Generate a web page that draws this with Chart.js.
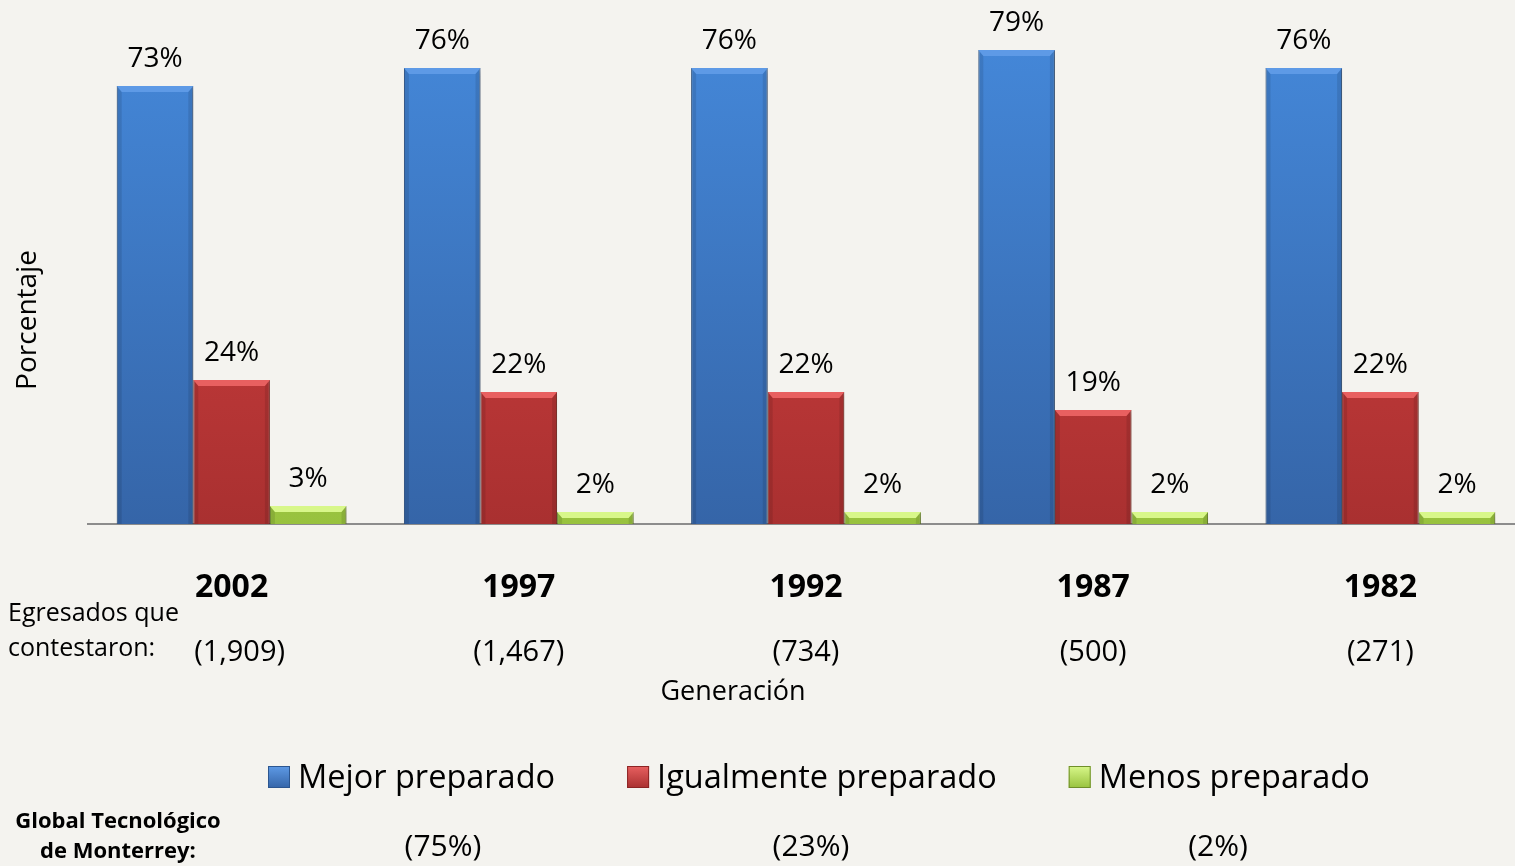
<!DOCTYPE html>
<html>
<head>
<meta charset="utf-8">
<script src="https://cdn.jsdelivr.net/npm/chart.js@4.4.0/dist/chart.umd.min.js"></script>
<style>
  html, body { margin: 0; padding: 0; background: #f4f3ef; overflow: hidden; }
  #wrap { position: absolute; left: 0; top: 0; width: 1524px; height: 866px; }
</style>
</head>
<body>
<div id="wrap"><canvas id="grafica"></canvas></div>
<script>
// Datos de la gráfica
var generaciones = ["2002", "1997", "1992", "1987", "1982"];
var egresados = ["(1,909)", "(1,467)", "(734)", "(500)", "(271)"];
var series = ["Mejor preparado", "Igualmente preparado", "Menos preparado"];
var mejor = [73, 76, 76, 79, 76];
var igual = [24, 22, 22, 19, 22];
var menos = [3, 2, 2, 2, 2];
var globalTec = ["(75%)", "(23%)", "(2%)"];

var FUENTE = "'Open Sans', 'DejaVu Sans', sans-serif";

// colores: [arriba, abajo, borde, brillo]
var colores = [
    ["#4487d8", "#3565a8", "#2c5690", "#5e9ae6"],
    ["#dc4444", "#a93030", "#8c2424", "#e86060"],
    ["#c3ea6a", "#98c23e", "#6f8f2a", "#d8f78a"]
];

function degradado(i) {
    return function (ctx) {
        var chart = ctx.chart;
        var area = chart.chartArea;
        if (!area) return colores[i][0];
        var g = chart.ctx.createLinearGradient(0, area.top, 0, area.bottom);
        g.addColorStop(0, colores[i][0]);
        g.addColorStop(1, colores[i][1]);
        return g;
    };
}

// Sombra de las barras
var sombra = {
    id: "sombra",
    beforeDatasetsDraw: function (chart) {
        var c = chart.ctx;
        c.save();
        c.shadowColor = "rgba(60,50,20,0.25)";
        c.shadowBlur = 6;
        c.shadowOffsetX = 3;
        c.shadowOffsetY = 3;
    },
    afterDatasetsDraw: function (chart) {
        chart.ctx.restore();
    }
};

// Biselado, etiquetas y textos
var textos = {
    id: "textos",
    afterDraw: function (chart) {
        var c = chart.ctx;
        var xs = chart.scales.x;
        c.save();

        // biselado de cada barra
        chart.data.datasets.forEach(function (ds, i) {
            var meta = chart.getDatasetMeta(i);
            meta.data.forEach(function (bar, j) {
                var l = bar.x - bar.width / 2, r = bar.x + bar.width / 2;
                var t = bar.y, b = bar.base;
                var h = Math.min(6, (b - t) / 2);
                c.fillStyle = colores[i][3];
                c.beginPath();
                c.moveTo(l, t); c.lineTo(r, t); c.lineTo(r - 5, t + h); c.lineTo(l + 5, t + h);
                c.closePath(); c.fill();
                c.fillStyle = "rgba(0,0,0,0.10)";
                c.beginPath();
                c.moveTo(l, t); c.lineTo(l + 5, t + h); c.lineTo(l + 5, b); c.lineTo(l, b);
                c.closePath(); c.fill();
                c.beginPath();
                c.moveTo(r, t); c.lineTo(r - 5, t + h); c.lineTo(r - 5, b); c.lineTo(r, b);
                c.closePath(); c.fill();

                // etiqueta de valor
                c.fillStyle = "#000";
                c.font = "28px " + FUENTE;
                c.textAlign = "center";
                c.textBaseline = "alphabetic";
                c.fillText(ds.data[j] + "%", bar.x, t - 19);
            });
        });

        // años y egresados
        c.textAlign = "center";
        generaciones.forEach(function (g, k) {
            var x = xs.getPixelForValue(k);
            c.font = "bold 32px " + FUENTE;
            c.fillText(g, x, 597);
            c.font = "29px " + FUENTE;
            c.fillText(egresados[k], x + (k === 0 ? 8 : 0), 661);
        });

        c.textAlign = "left";
        c.font = "25px " + FUENTE;
        c.fillText("Egresados que", 8, 621);
        c.fillText("contestaron:", 8, 656);

        c.textAlign = "center";
        c.font = "27px " + FUENTE;
        c.fillText("Generación", 733, 700);

        // título del eje y
        c.save();
        c.translate(28, 320);
        c.rotate(-Math.PI / 2);
        c.textBaseline = "middle";
        c.font = "28px " + FUENTE;
        c.fillText("Porcentaje", 0, 0);
        c.restore();

        // leyenda
        c.font = "32.5px " + FUENTE;
        var xl = 268;
        series.forEach(function (s, i) {
            var g = c.createLinearGradient(0, 766, 0, 788);
            g.addColorStop(0, colores[i][3]);
            g.addColorStop(1, colores[i][1]);
            c.fillStyle = g;
            c.fillRect(xl, 766, 22, 22);
            c.strokeStyle = colores[i][2];
            c.lineWidth = 1;
            c.strokeRect(xl + 0.5, 766.5, 21, 21);
            c.fillStyle = "#000";
            c.textAlign = "left";
            var w = c.measureText(s).width;
            c.fillText(s, xl + 30, 788);
            xl += 30 + w + 72;
        });

        c.textAlign = "center";
        c.font = "30px " + FUENTE;
        var xsGlobal = [443, 811, 1218];
        globalTec.forEach(function (t, i) {
            c.fillText(t, xsGlobal[i], 856);
        });

        c.font = "bold 22px " + FUENTE;
        c.fillText("Global Tecnológico", 118, 828);
        c.fillText("de Monterrey:", 118, 858);

        c.restore();
    }
};

var datos = {
    labels: generaciones,
    datasets: [
        { label: series[0], data: mejor, backgroundColor: degradado(0), borderColor: colores[0][2], borderWidth: 1 },
        { label: series[1], data: igual, backgroundColor: degradado(1), borderColor: colores[1][2], borderWidth: 1 },
        { label: series[2], data: menos, backgroundColor: degradado(2), borderColor: colores[2][2], borderWidth: 1 }
    ]
};

var configuracion = {
    type: "bar",
    data: datos,
    options: {
        responsive: true,
        maintainAspectRatio: false,
        animation: false,
        layout: { padding: { left: 88, right: 0, top: 44, bottom: 334 } },
        datasets: { bar: { categoryPercentage: 0.8, barPercentage: 1.0 } },
        plugins: { legend: { display: false }, tooltip: { enabled: false } },
        scales: {
            x: {
                grid: { display: false },
                border: { display: true, color: "#8c8c8c", width: 2 },
                ticks: { display: false }
            },
            y: {
                display: false,
                min: 0,
                max: 80
            }
        }
    },
    plugins: [sombra, textos]
};

var contexto = document.getElementById("grafica").getContext("2d");
var miGrafico = new Chart(contexto, configuracion);
</script>
</body>
</html>
